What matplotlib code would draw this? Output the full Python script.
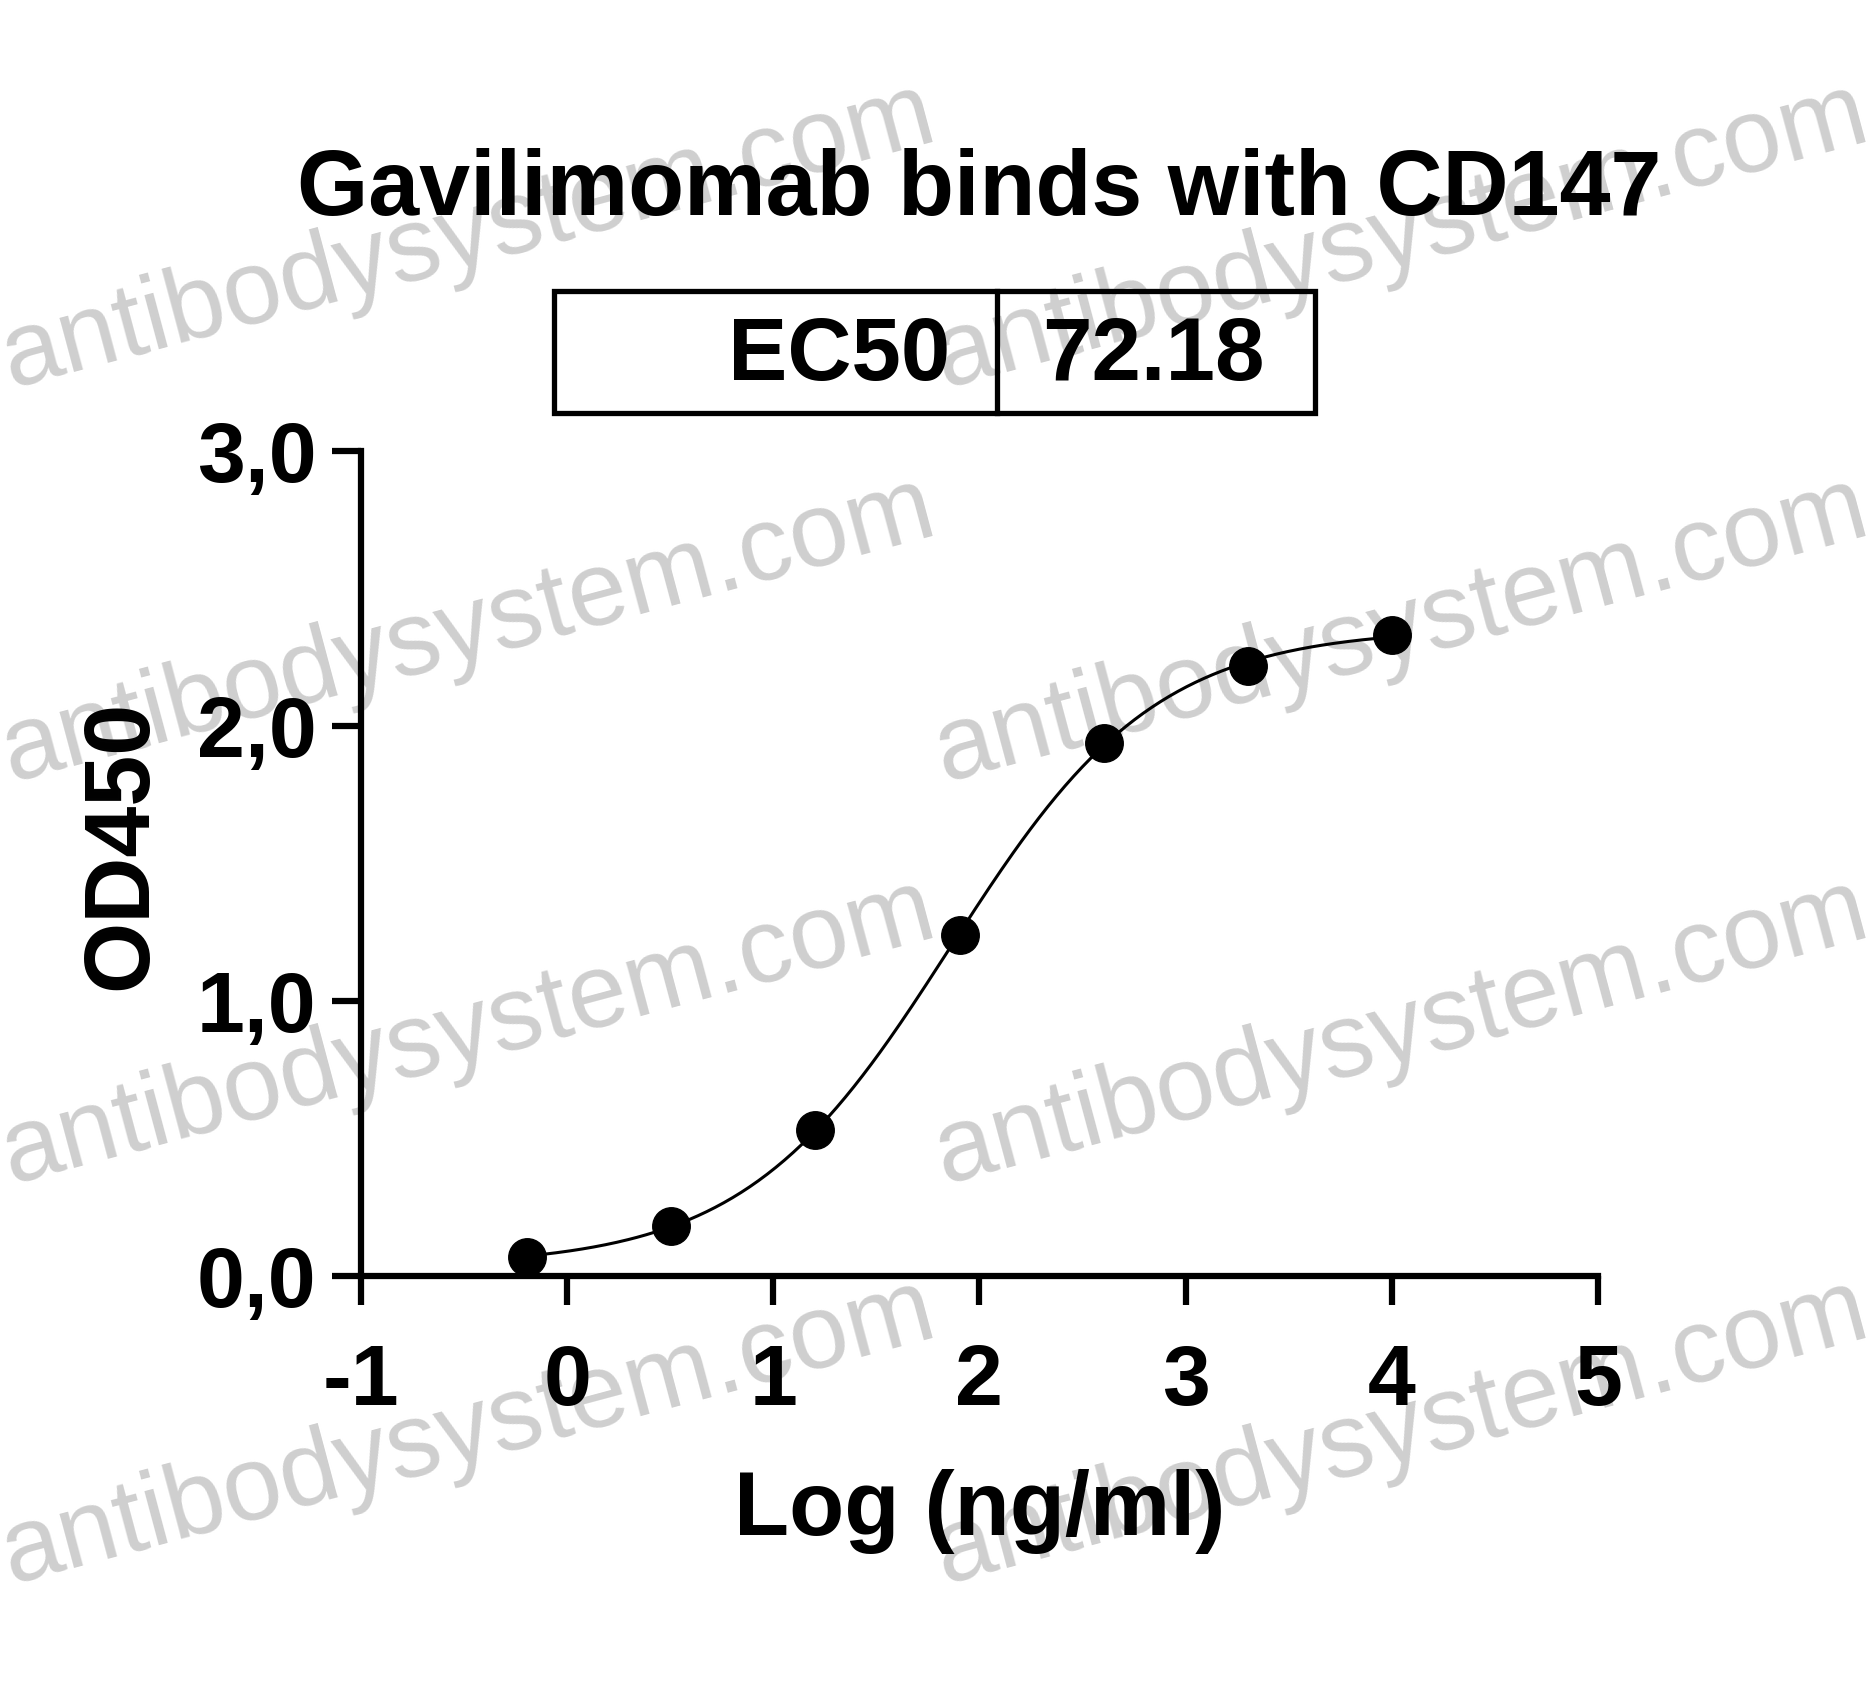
import numpy as np
import matplotlib.pyplot as plt
from matplotlib.patches import Rectangle
from matplotlib.lines import Line2D
from matplotlib.ticker import FuncFormatter

plt.rcParams['font.family'] = ['Liberation Sans', 'DejaVu Sans']
plt.rcParams['font.weight'] = 'bold'
plt.rcParams['axes.unicode_minus'] = False

# data
conc = np.array([0.64, 3.2, 16, 80, 400, 2000, 10000])  # ng/ml, 5x dilutions
od450 = np.array([0.07, 0.18, 0.53, 1.24, 1.94, 2.22, 2.33])
ec50 = 72.18
title = "Gavilimomab binds with CD147"
x_ticks = [-1, 0, 1, 2, 3, 4, 5]
y_ticks = [0, 1, 2, 3]

logc = np.log10(conc)

# 4PL fit with EC50 fixed to the reported value (small grid search)
def fourpl(x, bottom, top, hill):
    return bottom + (top - bottom) / (1 + 10 ** ((np.log10(ec50) - x) * hill))

B, T, H = np.meshgrid(np.linspace(-0.1, 0.2, 61), np.linspace(2.2, 2.6, 81),
                      np.linspace(0.5, 1.5, 101), indexing='ij')
sse = sum((fourpl(xi, B, T, H) - yi) ** 2 for xi, yi in zip(logc, od450))
i = np.unravel_index(np.argmin(sse), sse.shape)
bottom, top, hill = B[i], T[i], H[i]
xfit = np.linspace(logc.min(), logc.max(), 300)
yfit = fourpl(xfit, bottom, top, hill)

fig = plt.figure(figsize=(18.73, 16.88), dpi=100)
ax = fig.add_axes([0.1927, 0.2441, 0.6605, 0.4887])
ax.patch.set_alpha(0)

ax.plot(xfit, yfit, color='black', lw=2.2, zorder=3)
ax.plot(logc, od450, 'o', color='black', ms=27, clip_on=False, zorder=4)

ax.set_xlim(-1, 5)
ax.set_ylim(0, 3)
ax.set_xticks(x_ticks)
ax.set_yticks(y_ticks)
ax.yaxis.set_major_formatter(FuncFormatter(lambda v, p: f"{v:.1f}".replace('.', ',')))
for s in ['top', 'right']:
    ax.spines[s].set_visible(False)
for s in ['left', 'bottom']:
    ax.spines[s].set_linewidth(4.5)
ax.tick_params(axis='both', width=4.5, length=21, labelsize=62)
ax.tick_params(axis='x', pad=27)
ax.tick_params(axis='y', pad=11)

ax.set_xlabel("Log (ng/ml)", fontsize=65, fontweight='bold')
ax.xaxis.label.set_va('baseline')
ax.xaxis.set_label_coords(0.5, -0.314)
ax.set_ylabel("OD450", fontsize=66, fontweight='bold')
ax.yaxis.set_label_coords(-0.158, 0.522)

fig.text(0.5227, 0.8726, title, ha='center', va='baseline', fontsize=66, fontweight='bold')

# EC50 box
bx0, bx1, bdiv, by0, by1 = 0.2958, 0.7021, 0.5323, 0.7553, 0.8276
fig.add_artist(Rectangle((bx0, by0), bx1 - bx0, by1 - by0, transform=fig.transFigure,
                         fill=False, lw=3.8, edgecolor='black'))
fig.add_artist(Line2D([bdiv, bdiv], [by0, by1], transform=fig.transFigure, lw=3.8, color='black'))
fig.text(0.5072, 0.7749, "EC50", ha='right', va='baseline', fontsize=64, fontweight='bold')
fig.text(0.5563, 0.7749, f"{ec50:.2f}", ha='left', va='baseline', fontsize=64, fontweight='bold')

# watermark, behind the plot
for yy in [0.770, 0.537, 0.299, 0.062]:
    for xx in [0.006, 0.504]:
        fig.text(xx, yy, "antibodysystem.com", rotation=15, rotation_mode='anchor',
                 ha='left', va='baseline', fontsize=76, fontweight='normal',
                 color='#cfcfcf', zorder=-1)

fig.savefig('out.png', dpi=100)
